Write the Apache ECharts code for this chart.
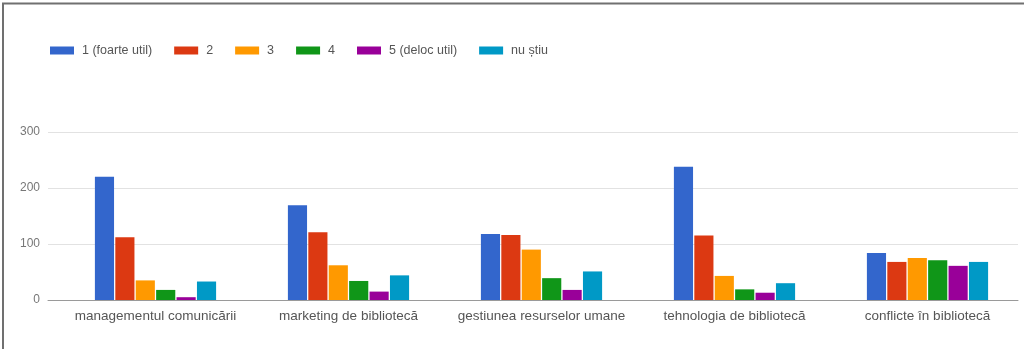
<!DOCTYPE html>
<html>
<head>
<meta charset="utf-8">
<title>Utilitatea temelor</title>
<script src="https://cdn.jsdelivr.net/npm/echarts@6/dist/echarts.min.js"></script>
<style>
  html, body { margin: 0; padding: 0; background: #ffffff; }
  #chart { width: 1024px; height: 349px; }
</style>
</head>
<body>
<div id="chart"></div>
<script>
// Topics on the category axis
const categories = [
  'managementul comunicării',
  'marketing de bibliotecă',
  'gestiunea resurselor umane',
  'tehnologia de bibliotecă',
  'conflicte în bibliotecă'
];

// Answer options (legend) and their counts per topic
const seriesNames = ['1 (foarte util)', '2', '3', '4', '5 (deloc util)', 'nu știu'];
const rating1 = [220, 169, 118, 238, 84];
const rating2 = [112, 121, 116, 115, 68];
const rating3 = [35, 62, 90, 43, 75];
const rating4 = [18, 34, 39, 19, 71];
const rating5 = [5, 15, 18, 13, 61];
const dontKnow = [33, 44, 51, 30, 68];

// Value axis ticks
const yTicks = [0, 100, 200, 300];

const seriesValues = [rating1, rating2, rating3, rating4, rating5, dontKnow];
const colors = ['#3366cc', '#dc3912', '#ff9900', '#109618', '#990099', '#0099c6'];
const font = '"Liberation Sans", Arial, sans-serif';

const chart = echarts.init(document.getElementById('chart'), null, { renderer: 'canvas' });

const yMin = yTicks[0];
const yMax = yTicks[yTicks.length - 1];
const yStep = yTicks[1] - yTicks[0];

chart.setOption({
  animation: false,
  backgroundColor: '#ffffff',
  color: colors,
  textStyle: { fontFamily: font },
  legend: {
    data: seriesNames,
    left: 45,
    top: 39,
    icon: 'rect',
    itemWidth: 24,
    itemHeight: 8,
    itemGap: 22,
    textStyle: { fontFamily: font, fontSize: 12.5, color: '#555555', padding: [0, 0, 0, 3] }
  },
  grid: [
    // frame: gridlines, value labels and baseline
    { left: 48, right: 6, top: 132, height: 168 },
    // plotting band for the grouped bars
    { left: 59, width: 988, top: 132, height: 168 }
  ],
  xAxis: [
    {
      gridIndex: 0,
      type: 'category',
      data: categories,
      axisLine: { show: true, lineStyle: { color: '#9a9a9a', width: 1 } },
      axisTick: { show: false },
      axisLabel: { show: false },
      splitLine: { show: false }
    },
    {
      gridIndex: 1,
      type: 'category',
      data: categories,
      axisLine: { show: false },
      axisTick: { show: false },
      axisLabel: {
        interval: 0,
        hideOverlap: false,
        fontFamily: font,
        fontSize: 13.5,
        color: '#555555',
        margin: 9
      },
      splitLine: { show: false }
    }
  ],
  yAxis: [
    {
      gridIndex: 0,
      type: 'value',
      min: yMin,
      max: yMax,
      interval: yStep,
      axisLine: { show: false },
      axisTick: { show: false },
      axisLabel: { fontFamily: font, fontSize: 12, color: '#777777', margin: 8 },
      splitLine: { show: true, lineStyle: { color: '#e2e2e2', width: 1 } }
    },
    {
      gridIndex: 1,
      type: 'value',
      min: yMin,
      max: yMax,
      interval: yStep,
      show: false,
      splitLine: { show: false }
    }
  ],
  series: seriesNames.map((name, i) => ({
    name: name,
    type: 'bar',
    xAxisIndex: 1,
    yAxisIndex: 1,
    data: seriesValues[i],
    barGap: '6.6%',
    barCategoryGap: '37.2%',
    itemStyle: { color: colors[i] }
  })),
  graphic: [
    {
      type: 'line',
      shape: { x1: 2, y1: 3.5, x2: 1024, y2: 3.5 },
      style: { stroke: '#707070', lineWidth: 2 }
    },
    {
      type: 'line',
      shape: { x1: 3, y1: 3, x2: 3, y2: 349 },
      style: { stroke: '#707070', lineWidth: 2 }
    }
  ]
});
</script>
</body>
</html>
